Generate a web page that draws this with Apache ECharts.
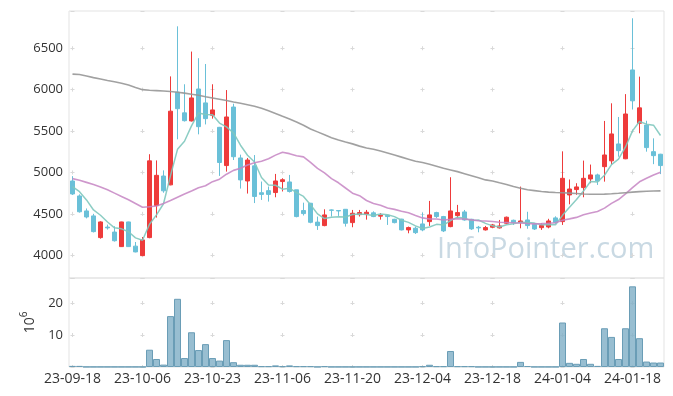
<!DOCTYPE html>
<html><head><meta charset="utf-8">
<script src="https://cdn.jsdelivr.net/npm/echarts@6/dist/echarts.min.js"></script>
<style>html,body{margin:0;padding:0;background:#fff}#c{width:673px;height:396px}</style>
</head><body><div id="c"></div>
<script>
const dates = ['23-09-18','23-09-19','23-09-20','23-09-21','23-09-22','23-09-25','23-09-26','23-09-27','23-10-04','23-10-05',
'23-10-06','23-10-10','23-10-11','23-10-12','23-10-13','23-10-16','23-10-17','23-10-18','23-10-19','23-10-20',
'23-10-23','23-10-24','23-10-25','23-10-26','23-10-27','23-10-30','23-10-31','23-11-01','23-11-02','23-11-03',
'23-11-06','23-11-07','23-11-08','23-11-09','23-11-10','23-11-13','23-11-14','23-11-15','23-11-16','23-11-17',
'23-11-20','23-11-21','23-11-22','23-11-23','23-11-24','23-11-27','23-11-28','23-11-29','23-11-30','23-12-01',
'23-12-04','23-12-05','23-12-06','23-12-07','23-12-08','23-12-11','23-12-12','23-12-13','23-12-14','23-12-15',
'23-12-18','23-12-19','23-12-20','23-12-21','23-12-22','23-12-26','23-12-27','23-12-28','24-01-02','24-01-03',
'24-01-04','24-01-05','24-01-08','24-01-09','24-01-10','24-01-11','24-01-12','24-01-15','24-01-16','24-01-17',
'24-01-18','24-01-19','24-01-22','24-01-23','24-01-24'];
const opens = [4897,4716,4535,4475,4213,4340,4280,4104,4402,4110,
3995,4213,4600,4957,4850,5970,5720,5622,6008,5840,
5690,5545,5083,5790,5175,4897,5080,4755,4780,4757,
4890,4885,4790,4540,4628,4400,4358,4547,4540,4555,
4394,4490,4497,4512,4472,4483,4434,4436,4306,4326,
4378,4406,4515,4467,4346,4479,4523,4434,4338,4306,
4338,4330,4386,4422,4394,4426,4374,4333,4341,4451,
4406,4728,4793,4817,4921,4970,5070,5140,5344,5165,
6238,5594,5573,5251,5220];
const closes = [4740,4525,4462,4285,4402,4330,4175,4402,4104,4040,
4185,5140,4965,4778,5740,5770,5625,5900,5553,5650,
5755,5120,5670,5190,4910,5150,4710,4735,4735,4897,
4912,4770,4467,4503,4398,4358,4487,4543,4535,4386,
4507,4515,4519,4467,4482,4467,4394,4306,4334,4273,
4306,4487,4467,4294,4535,4515,4426,4318,4330,4334,
4366,4354,4459,4394,4414,4358,4317,4358,4414,4394,
4929,4800,4825,4929,4970,4897,5211,5465,5263,5706,
5865,5780,5300,5203,5083];
const lows = [4728,4515,4445,4275,4200,4310,4165,4100,4100,4035,
3990,4205,4455,4755,4845,5400,5615,5615,5460,5580,
5650,4958,5010,5150,4805,4745,4630,4668,4648,4700,
4770,4757,4458,4480,4386,4306,4350,4467,4475,4346,
4338,4467,4430,4460,4430,4366,4385,4300,4265,4257,
4290,4354,4450,4280,4338,4447,4418,4306,4277,4298,
4326,4322,4378,4366,4325,4320,4305,4306,4325,4380,
4366,4615,4730,4700,4870,4849,4889,5095,5190,5160,
5760,5473,5251,5100,4980];
const highs = [4955,4735,4565,4500,4410,4370,4350,4405,4405,4160,
4220,5220,5145,5025,6160,6765,6065,6460,6380,6310,
6065,5550,5995,5830,5215,5175,5210,4890,4830,4982,
4930,4970,4790,4635,4632,4467,4555,4553,4545,4558,
4547,4547,4547,4530,4510,4485,4440,4440,4346,4346,
4515,4656,4525,4475,4942,4608,4547,4440,4354,4354,
4378,4426,4467,4430,4829,4525,4386,4386,4440,4470,
5255,4915,4870,5143,5095,4985,5622,5835,5670,5946,
6862,6157,5624,5412,5225];
// volume in millions of shares
const volumes = [0.35,0.35,0.05,0.05,0.05,0.05,0.05,0.05,0.05,0.05,
0.05,5.4,2.5,0.75,15.9,21.3,2.8,10.85,5.3,7.15,
2.8,2.0,8.4,1.5,0.7,0.7,0.7,0.25,0.25,0.5,
0.25,0.5,0.25,0.25,0.25,0.05,0.25,0.05,0.05,0.05,
0.05,0.05,0.05,0.05,0.05,0.05,0.05,0.05,0.05,0.05,
0.25,0.7,0.25,0.25,5.0,0.25,0.25,0.25,0.05,0.05,
0.05,0.05,0.05,0.05,1.6,0.3,0.05,0.05,0.05,0.05,
13.9,1.3,1.0,2.5,1.0,0.35,12.1,9.4,2.5,12.1,
25.2,9.0,1.7,1.4,1.4];
const ma5Lead = [4829,4768,4668,4547];
const ma20Lead = [4925,4905,4880,4855,4825,4790,4750,4710,4670,4625,4580,4585,4595,4625,4660,4700,4740,4775,4815];
const ma120 = [6188,6183,6165,6145,6128,6110,6095,6078,6055,6025,
6000,5992,5988,5984,5978,5968,5958,5945,5932,5915,
5900,5885,5868,5850,5835,5818,5800,5775,5745,5712,
5678,5645,5610,5570,5525,5490,5455,5420,5392,5368,
5345,5318,5295,5280,5258,5235,5210,5185,5160,5135,
5120,5100,5075,5050,5030,5010,4985,4960,4935,4910,
4897,4875,4855,4830,4810,4790,4780,4770,4762,4758,
4755,4750,4745,4740,4737,4736,4738,4742,4748,4755,
4762,4768,4772,4775,4777];
const watermark = 'InfoPointer.com';

function movingAvg(n, lead) {
  return closes.map((c, i) => {
    if (i < n - 1) return lead[i];
    let s = 0; for (let k = i - n + 1; k <= i; k++) s += closes[k];
    return Math.round(s / n);
  });
}
const ma5 = movingAvg(5, ma5Lead);
const ma20 = movingAvg(20, ma20Lead);
const candles = opens.map((o, i) => [o, closes[i], lows[i], highs[i]]);

// layout
const GL = 69, GW = 595, GT = 11, GH = 267, VT = 278, VH = 89;
const PMIN = 3725, PMAX = 6950, PSTEP = 500, VMAX = 27.8, VSTEP = 10;
const FONT = 'Open Sans';
const CROSS = 4, GRID_C = '#d9d9d9';
const band = GW / dates.length, hPer = band * 10;
const hOff = hPer - (band / 2 - CROSS / 2);
function vDash(top, height, min, max, step) {
  const per = step / (max - min) * height;
  const firstTick = Math.floor(max / step) * step;
  const first = (max - firstTick) / (max - min) * height;
  let off = per - (first - CROSS / 2);
  off = ((off % per) + per) % per;
  return { type: [CROSS, per - CROSS], dashOffset: off, color: GRID_C, width: 1 };
}
const hDash = { type: [CROSS, hPer - CROSS], dashOffset: hOff, color: GRID_C, width: 1 };
const plain = v => String(Math.round(v));

const chart = echarts.init(document.getElementById('c'), null, { renderer: 'canvas' });
chart.setOption({
  animation: false,
  backgroundColor: '#fff',
  textStyle: { fontFamily: FONT },
  grid: [
    { left: GL, top: GT, width: GW, height: GH, show: true, borderColor: '#e3e3e3', borderWidth: 1 },
    { left: GL, top: VT, width: GW, height: VH, show: true, borderColor: '#e3e3e3', borderWidth: 1 }
  ],
  xAxis: [
    { type: 'category', gridIndex: 0, data: dates, boundaryGap: true,
      axisLine: { show: false }, axisTick: { show: false }, axisLabel: { show: false },
      splitLine: { show: true, interval: 9, alignWithLabel: true, lineStyle: vDash(GT, GH, PMIN, PMAX, PSTEP) } },
    { type: 'category', gridIndex: 1, data: dates, boundaryGap: true,
      axisLine: { show: false }, axisTick: { show: false },
      axisLabel: { interval: 9, fontSize: 14, color: '#333', margin: 5, fontFamily: FONT },
      splitLine: { show: true, interval: 9, alignWithLabel: true, lineStyle: vDash(VT, VH, 0, VMAX, VSTEP) } }
  ],
  yAxis: [
    { type: 'value', gridIndex: 0, min: PMIN, max: PMAX, scale: true,
      axisLine: { show: false }, axisTick: { show: false },
      axisLabel: { showMinLabel: false, showMaxLabel: false, fontSize: 13, color: '#333', margin: 6, fontFamily: FONT, formatter: plain },
      splitLine: { show: true, lineStyle: hDash } },
    { type: 'value', gridIndex: 1, min: 0, max: VMAX, interval: VSTEP,
      axisLine: { show: false }, axisTick: { show: false },
      axisLabel: { showMinLabel: false, showMaxLabel: false, fontSize: 13, color: '#333', margin: 6, fontFamily: FONT, formatter: plain },
      splitLine: { show: true, lineStyle: hDash },
      name: '{a|10}{b|6}', nameLocation: 'middle', nameRotate: 90, nameGap: 30,
      nameTextStyle: { color: '#333', fontFamily: FONT,
        rich: { a: { fontSize: 14, fontFamily: FONT, color: '#333', lineHeight: 18, verticalAlign: 'bottom' },
                b: { fontSize: 10, fontFamily: FONT, color: '#333', lineHeight: 18, verticalAlign: 'top', padding: [0, 0, 6, 0] } } } }
  ],
  graphic: [
    { type: 'text', left: 437, top: 235, z: 0, silent: true,
      style: { text: watermark, font: '29px "Open Sans"', fill: '#c9d9e3' } }
  ],
  series: [
    { type: 'candlestick', name: 'price', xAxisIndex: 0, yAxisIndex: 0, data: candles, barWidth: 5,
      itemStyle: { color: '#ee3b3b', color0: '#6ac0d8', borderColor: '#ee3b3b', borderColor0: '#6ac0d8', borderWidth: 1 } },
    { type: 'line', name: 'MA5', xAxisIndex: 0, yAxisIndex: 0, data: ma5, showSymbol: false, symbol: 'none', z: 3,
      lineStyle: { color: '#7fc8be', width: 1.5, opacity: 0.9 } },
    { type: 'line', name: 'MA20', xAxisIndex: 0, yAxisIndex: 0, data: ma20, showSymbol: false, symbol: 'none', z: 3,
      lineStyle: { color: '#c585c3', width: 1.6, opacity: 0.85 } },
    { type: 'line', name: 'MA120', xAxisIndex: 0, yAxisIndex: 0, data: ma120, showSymbol: false, symbol: 'none', z: 3,
      lineStyle: { color: '#979797', width: 1.6, opacity: 0.9 } },
    { type: 'bar', name: 'volume', xAxisIndex: 1, yAxisIndex: 1, data: volumes, barCategoryGap: '0%',
      itemStyle: { color: 'rgba(126,174,197,0.8)', borderColor: '#6a9db6', borderWidth: 1 } }
  ]
});
</script>
</body></html>
